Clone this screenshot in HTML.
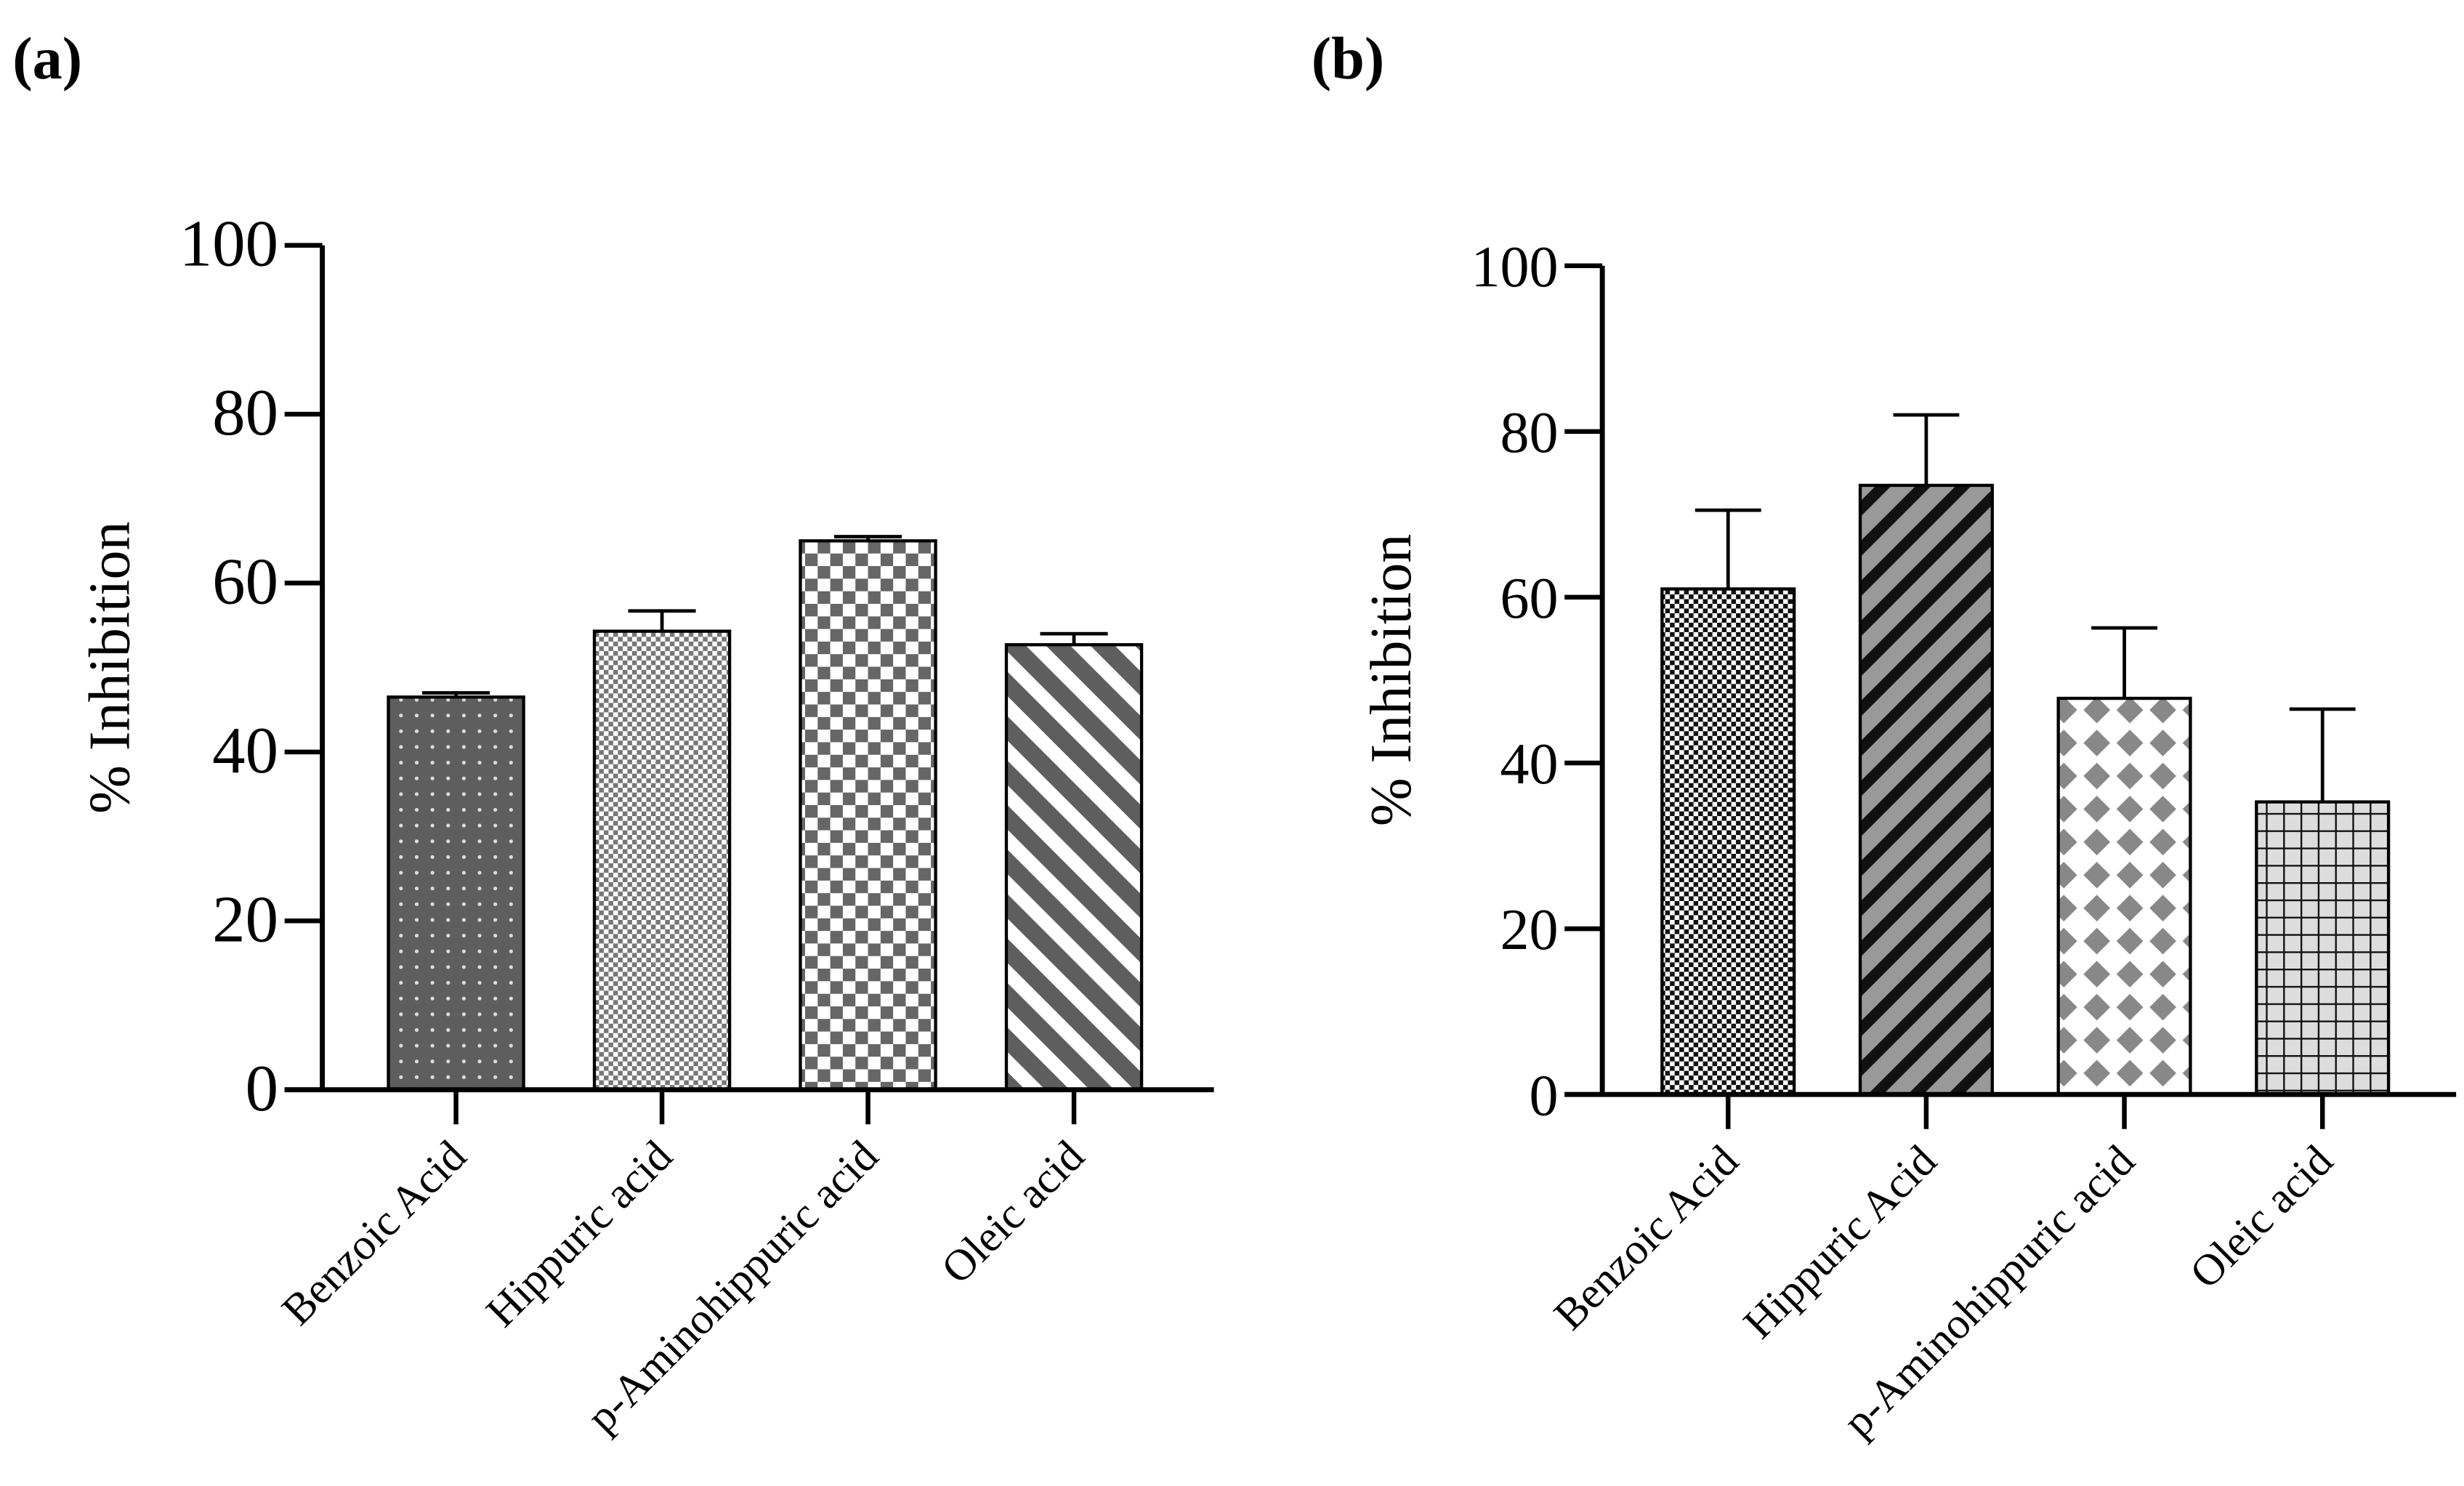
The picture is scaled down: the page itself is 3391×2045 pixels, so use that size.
<!DOCTYPE html>
<html><head><meta charset="utf-8"><style>
html,body{margin:0;padding:0;background:#fff;}
svg{display:block;font-family:"Liberation Serif",serif;}
</style></head><body>
<svg id="fig" width="3391" height="2045" viewBox="0 0 1567 945" xmlns="http://www.w3.org/2000/svg">
<defs>
<pattern id="pA1" width="10" height="10" patternUnits="userSpaceOnUse"><rect width="10" height="10" fill="#5e5e5e"/><circle cx="5" cy="5" r="1.2" fill="#ddd"/></pattern>
<pattern id="pA2" width="6" height="6" patternUnits="userSpaceOnUse"><rect width="6" height="6" fill="#fff"/><rect width="3" height="3" fill="#777"/><rect x="3" y="3" width="3" height="3" fill="#777"/></pattern>
<pattern id="pA3" width="16" height="16" patternUnits="userSpaceOnUse"><rect width="16" height="16" fill="#fff"/><rect width="8" height="8" fill="#666"/><rect x="8" y="8" width="8" height="8" fill="#666"/></pattern>
<pattern id="pA4" width="20" height="20" patternUnits="userSpaceOnUse" patternTransform="rotate(-45)"><rect width="20" height="20" fill="#fff"/><rect width="11" height="20" fill="#5e5e5e"/></pattern>
<pattern id="pB1" width="6" height="6" patternUnits="userSpaceOnUse"><rect width="6" height="6" fill="#fff"/><rect width="3" height="3" fill="#111"/><rect x="3" y="3" width="3" height="3" fill="#111"/></pattern>
<pattern id="pB2" width="18" height="18" patternUnits="userSpaceOnUse" patternTransform="rotate(45)"><rect width="18" height="18" fill="#999"/><rect width="7" height="18" fill="#111"/></pattern>
<pattern id="pB3" width="21" height="21" patternUnits="userSpaceOnUse"><rect width="21" height="21" fill="#fff"/><polygon points="10.5,2 19,10.5 10.5,19 2,10.5" fill="#888"/></pattern>
<pattern id="pB4" width="11" height="11" patternUnits="userSpaceOnUse"><rect width="11" height="11" fill="#ddd"/><path d="M0 0.5H11M0.5 0V11" stroke="#111" stroke-width="1.2"/></pattern>
</defs>
<text x="8" y="50" font-size="38" font-weight="bold">(a)</text>
<text x="834" y="50" font-size="38" font-weight="bold">(b)</text>
<g id="chartA"></g>
<g id="chartB"></g>
</svg>
<script>
const catsA = ["Benzoic Acid","Hippuric acid","p-Aminohippuric acid","Oleic acid"];
const valsA = [46.5, 54.3, 65.0, 52.7];
const errsA = [0.5, 2.4, 0.5, 1.3];
const catsB = ["Benzoic Acid","Hippuric Acid","p-Aminohippuric acid","Oleic acid"];
const valsB = [61.0, 73.5, 47.8, 35.3];
const errsB = [9.5, 8.5, 8.5, 11.2];
const yTicks = [0,20,40,60,80,100];
const NS="http://www.w3.org/2000/svg";
function mk(parent,tag,attrs){const e=document.createElementNS(NS,tag);for(const k in attrs)e.setAttribute(k,attrs[k]);parent.appendChild(e);return e;}
function draw(g,cfg,cats,vals,errs,fills,pfx){
  const y=v=>cfg.y0+(cfg.y100-cfg.y0)*v/100;
  const xc=i=>cfg.x1+cfg.step*i;
  const t=mk(g,'text',{x:cfg.titleX,y:(cfg.y0+cfg.y100)/2,'font-size':37,'text-anchor':'middle',transform:`rotate(-90 ${cfg.titleX} ${(cfg.y0+cfg.y100)/2})`});
  t.textContent="% Inhibition";
  
  
  vals.forEach((v,i)=>{
    const cx=xc(i);
    const r=mk(g,'rect',{x:cx-cfg.bw/2,y:y(v),width:cfg.bw,height:y(0)-y(v),fill:`url(#${fills[i]})`,stroke:'#000','stroke-width':2});
    
    
    const e=mk(g,'path',{d:`M${cx} ${y(v)}V${y(v+errs[i])}M${cx-cfg.bw/4} ${y(v+errs[i])}H${cx+cfg.bw/4}`,stroke:'#000','stroke-width':2.2,fill:'none'});
    
    
    const tk=mk(g,'line',{x1:cx,x2:cx,y1:y(0),y2:y(0)+22,stroke:'#000','stroke-width':3});
    
    
    const lx=cx+8, ly=y(0)+44;
    const lb=mk(g,'text',{x:lx,y:ly,'font-size':28,'text-anchor':'end',transform:`rotate(-45 ${lx} ${ly})`});
    lb.textContent=cats[i];
    
    
  });
  const ax=mk(g,'path',{d:`M${cfg.ax} ${y(100)}V${y(0)}M${cfg.ax-24} ${y(0)}H${cfg.xEnd}`,stroke:'#000','stroke-width':3.2,fill:'none'});
  
  
  yTicks.forEach(v=>{
    const l=mk(g,'line',{x1:cfg.ax-24,x2:cfg.ax,y1:y(v),y2:y(v),stroke:'#000','stroke-width':3});
    
    
    const tx=mk(g,'text',{x:cfg.ax-28,y:y(v)+13,'font-size':cfg.fs,'text-anchor':'end'});
    tx.textContent=v;
    
    
  });
}
draw(document.getElementById('chartA'),{y0:693,y100:156,x1:290,step:131,bw:86,ax:205,xEnd:772,titleX:82,fs:42},catsA,valsA,errsA,['pA1','pA2','pA3','pA4'],'a');
draw(document.getElementById('chartB'),{y0:696,y100:169,x1:1099,step:126,bw:84,ax:1019,xEnd:1562,titleX:897,fs:37},catsB,valsB,errsB,['pB1','pB2','pB3','pB4'],'b');
</script>
</body></html>
